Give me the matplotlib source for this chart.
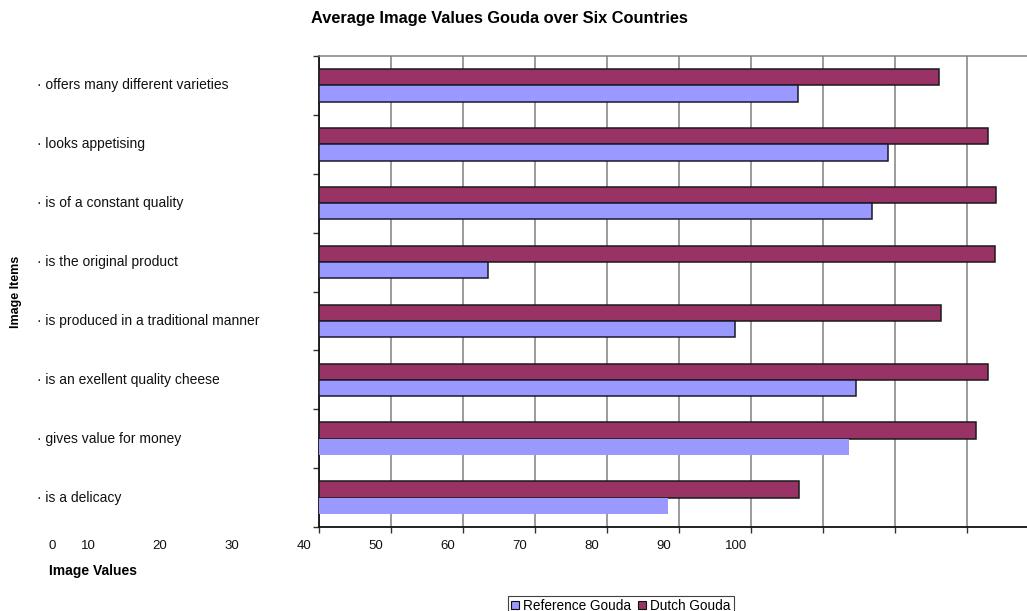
import matplotlib
matplotlib.use("Agg")
import matplotlib.pyplot as plt
import matplotlib.transforms as mtransforms
from matplotlib.patches import Patch
import numpy as np

plt.rcParams['font.family'] = ['Liberation Sans', 'DejaVu Sans']

# ---- data (bottom to top) ----
categories = ["· is a delicacy", "· gives value for money", "· is an exellent quality cheese",
              "· is produced in a traditional manner", "· is the original product",
              "· is of a constant quality", "· looks appetising", "· offers many different varieties"]
reference_gouda = [48.5, 73.6, 74.7, 57.9, 23.6, 76.9, 79.1, 66.6]
dutch_gouda = [66.7, 91.3, 92.9, 86.5, 94.0, 94.1, 92.9, 86.1]
tick_labels = ["0", "10", "20", "30", "40", "50", "60", "70", "80", "90", "100"]
series_names = ["Reference Gouda", "Dutch Gouda"]

ref_color = "#9999FF"
dutch_color = "#993366"

W, H = 1027, 611
fig = plt.figure(figsize=(W / 100, H / 100), dpi=100)
ax_left, ax_right, ax_top, ax_bottom = 318.5, 1038.7, 56, 527
ax = fig.add_axes([ax_left / W, (H - ax_bottom) / H, (ax_right - ax_left) / W, (ax_bottom - ax_top) / H])

y = np.arange(len(categories))
h = 0.277
ref_edges = ["none", "none"] + ["#1a1a2a"] * 6  # bottom two bars have no outline
ax.barh(y + h / 2, dutch_gouda, height=h, left=0, color=dutch_color, edgecolor="#1a1a1a", linewidth=1.1, zorder=3)
ax.barh(y - h / 2, reference_gouda, height=h, left=0, color=ref_color, edgecolor=ref_edges, linewidth=1.1, zorder=3)

ax.set_xlim(0, 100)
ax.set_ylim(-0.5, len(categories) - 0.5)

# gridlines
ax.set_xticks(np.arange(0, 101, 10))
ax.xaxis.grid(True, color="#808080", linewidth=1.1, zorder=0)
ax.set_axisbelow(True)
ax.tick_params(axis='x', direction='out', length=4, width=1, color="#333333", labelbottom=False)
ax.set_yticks(np.arange(-0.5, len(categories), 1.0))
ax.tick_params(axis='y', direction='out', length=4, width=1, color="#333333", labelleft=False)

for s in ["left", "bottom"]:
    ax.spines[s].set_color("#111111")
    ax.spines[s].set_linewidth(1.3)
ax.spines["top"].set_color("#808080")
ax.spines["top"].set_linewidth(1.1)
ax.spines["right"].set_visible(False)

# category labels
trans = mtransforms.blended_transform_factory(fig.transFigure, ax.transData)
for yi, lab in zip(y, categories):
    ax.text(37 / W, yi, lab, transform=trans, ha='left', va='center', fontsize=10, color="#111111")

# x tick labels row (shifted as in the reference)
trans_x = mtransforms.blended_transform_factory(ax.transData, fig.transFigure)
for lab in tick_labels:
    v = float(lab)
    xd = v - 42.0 if v >= 10 else -37.0
    ax.text(xd, 1 - 546 / H, lab, transform=trans_x, ha='center', va='center',
            fontsize=9.5, color="#111111", clip_on=False)

fig.text(49 / W, 1 - 571 / H, "Image Values", ha='left', va='center', fontsize=10, fontweight='bold')
fig.text(16 / W, 1 - 291.5 / H, "Image Items", ha='center', va='center', rotation=90, fontsize=9, fontweight='bold')
fig.text(499 / W, 1 - 19 / H, "Average Image Values Gouda over Six Countries", ha='center', va='center',
         fontsize=11.8, fontweight='bold')

handles = [Patch(facecolor=ref_color, edgecolor="#111111", linewidth=0.8),
           Patch(facecolor=dutch_color, edgecolor="#111111", linewidth=0.8)]
leg = fig.legend(handles, series_names, loc='upper center', bbox_to_anchor=(621 / W, 1 - 596 / H),
                 ncol=2, fontsize=9.8, frameon=True, fancybox=False, handlelength=0.6, handleheight=0.6,
                 handletextpad=0.3, columnspacing=0.5, borderpad=0.2, borderaxespad=0)
leg.get_frame().set_edgecolor("#111111")
leg.get_frame().set_linewidth(0.8)

fig.savefig("out.png", dpi=100)
